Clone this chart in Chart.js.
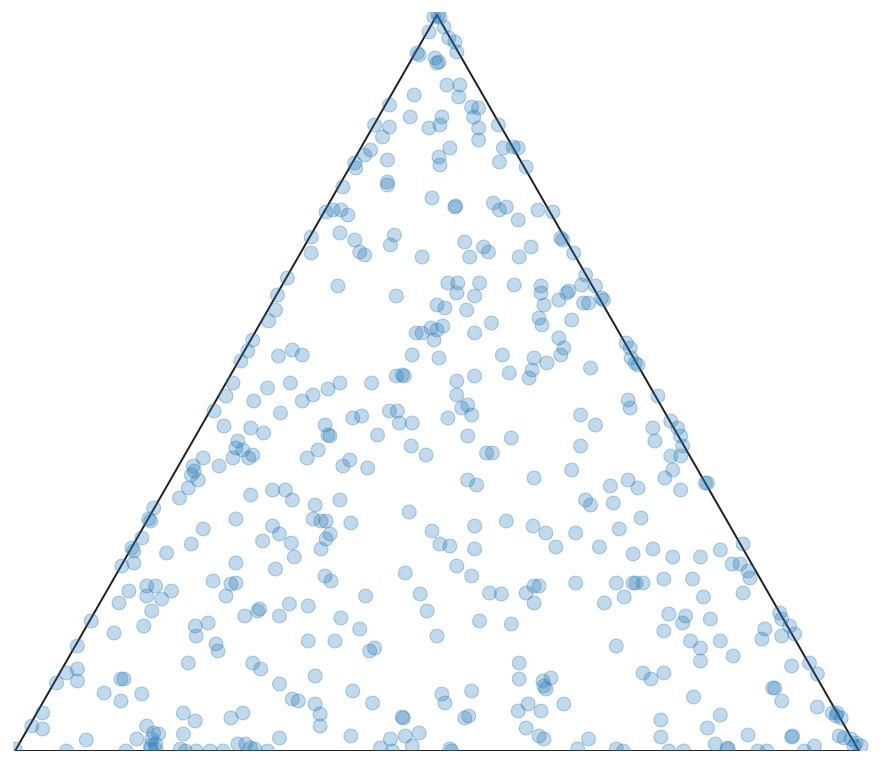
<!DOCTYPE html>
<html lang="en">
<head>
  <meta charset="UTF-8">
  <title>Ternary scatter</title>
  <style>
    body { margin: 0; background: #fff; }
    #wrap { position: relative; width: 888px; height: 774px; }
  </style>
</head>
<body>
  <div id="wrap"><canvas id="chart"></canvas></div>

  <script src="https://cdn.jsdelivr.net/npm/chart.js"></script>
  <script>
    // triangle corners (left, right, apex) in plot units
    const edgeX = [0, 852, 426, 0];
    const edgeY = [0, 0, 736, 0];

    // sample positions, [x, y] in the same units
    const samples = [
      [427,736],[423,734],[429,734],[418,719],[433,724],[438,713],[444,709],[446,699],[406,698],[408,696],
      [424,693],[428,689],[426,688],[436,666],[449,666],[448,654],[403,656],[378,646],[399,634],[431,634],
      [429,626],[418,623],[461,644],[468,643],[463,634],[468,623],[468,611],[488,626],[363,626],[378,624],
      [371,614],[359,601],[353,596],[343,588],[344,583],[376,591],[439,603],[428,594],[429,586],[493,603],
      [503,604],[508,603],[489,589],[516,584],[376,569],[376,566],[331,564],[421,553],[444,544],[445,545],
      [483,548],[489,541],[496,544],[508,531],[528,541],[543,539],[314,539],[321,541],[329,541],[336,536],
      [299,514],[328,518],[343,511],[383,516],[379,506],[454,509],[473,504],[478,499],[521,504],[551,513],
      [553,511],[299,498],[348,499],[353,496],[411,494],[459,494],[509,494],[564,498],

      [275,473],[265,456],[263,441],[256,430],[326,465],[385,455],[426,446],[434,443],[405,418],[411,418],
      [420,423],[426,421],[423,411],[240,411],[235,400],[228,390],[266,395],[280,401],[290,396],[401,396],
      [428,393],[220,368],[213,355],[201,340],[255,363],[241,350],[278,368],[290,350],[301,356],[316,362],
      [328,368],[360,368],[385,375],[391,376],[393,375],[268,338],[211,325],[238,323],[251,318],[313,326],
      [316,316],[318,315],[341,333],[350,335],[378,340],[386,340],[388,328],[401,328],[366,316],[225,310],
      [223,303],[230,301],[236,293],[240,296],[190,293],[180,285],[178,276],[185,271],[181,280],[206,285],
      [220,293],[295,293],[306,301],[331,285],[338,291],[356,283],[400,305],[415,296],[175,263],[166,253],
      [140,243],[238,256],[260,261],[273,261],[280,251],[303,246],[328,251],[398,239],

      [437,468],[447,468],[446,458],[469,468],[464,455],[504,466],[531,465],[531,458],[534,446],[529,433],
      [532,426],[549,451],[559,460],[557,458],[576,476],[572,466],[586,465],[574,448],[579,448],[592,453],
      [594,451],[562,431],[456,441],[432,425],[464,418],[481,428],[549,413],[554,403],[551,396],[524,393],
      [522,381],[519,373],[537,388],[492,396],[499,378],[581,383],[617,408],[621,403],[622,393],[626,388],
      [629,386],[446,370],[464,375],[446,356],[451,343],[457,346],[461,336],[437,333],[457,315],[501,313],
      [476,298],[482,298],[571,336],[586,326],[619,351],[621,343],[649,355],[662,330],[669,323],[672,315],
      [674,305],[672,295],[662,295],[644,323],[646,310],[571,305],[562,281],[524,273],[457,271],[466,266],
      [601,265],[619,271],[629,263],[656,273],[664,281],[672,261],[697,268],[699,268],[576,251],[581,246],
      [604,248],

      [135,232],[137,230],[223,232],[190,222],[260,225],[267,217],[128,213],[118,203],[120,200],[153,198],
      [178,207],[250,210],[279,208],[282,194],[108,185],[120,188],[223,188],[263,182],[200,170],[218,167],
      [223,168],[213,155],[115,160],[133,165],[142,165],[133,155],[148,152],[158,160],[105,148],[138,140],
      [77,130],[100,118],[130,125],[232,135],[245,140],[247,142],[267,135],[277,147],[182,125],[183,115],
      [195,128],[203,107],[205,100],[63,105],[175,88],[240,88],[248,82],[63,82],[63,70],[52,78],
      [42,68],[107,72],[110,72],[90,58],[107,50],[128,57],[267,67],[280,52],[28,38],[17,25],
      [28,22],[170,38],[182,30],[218,33],[230,38],[133,25],[140,18],[145,17],[138,12],[142,7],
      [137,5],[123,12],[170,17],[72,11],[267,13],[225,7],[233,7],[238,3],[242,2],[0,2],
      [52,0],[112,0],[137,2],[142,2],[167,2],[172,0],[183,0],[197,0],[210,0],[255,0],

      [301,232],[309,230],[314,230],[318,217],[314,212],[309,202],[339,228],[421,220],[429,207],[439,205],
      [464,225],[464,202],[496,230],[523,225],[536,218],[546,204],[566,218],[313,175],[319,170],[394,178],
      [446,185],[461,175],[354,155],[409,157],[416,140],[479,158],[491,157],[516,158],[524,165],[529,165],
      [524,148],[566,168],[296,145],[329,133],[348,122],[296,110],[323,110],[358,100],[363,103],[426,115],
      [469,130],[501,127],[509,88],[509,72],[533,70],[536,62],[541,73],[534,65],[303,75],[341,60],
      [361,48],[286,50],[303,47],[308,37],[308,25],[431,57],[434,48],[461,60],[391,34],[392,33],
      [454,33],[458,35],[508,40],[518,47],[531,40],[554,47],[516,23],[529,15],[534,12],[339,15],
      [379,12],[394,15],[408,18],[401,5],[369,3],[381,0],[439,2],[441,0],[568,2],[579,12],

      [632,233],[610,222],[590,204],[624,197],[644,202],[664,194],[692,194],[712,201],[735,207],[724,187],
      [732,187],[740,180],[742,173],[735,158],[607,168],[624,168],[627,168],[634,168],[655,172],[684,172],
      [595,148],[615,154],[695,154],[660,137],[677,135],[674,128],[702,132],[655,120],[682,110],[692,103],
      [692,90],[712,110],[725,95],[607,105],[757,122],[754,112],[772,138],[774,132],[782,125],[787,117],
      [774,115],[784,85],[802,88],[810,77],[634,78],[642,72],[655,78],[765,63],[767,63],[774,50],
      [685,54],[810,44],[825,38],[829,35],[834,33],[830,38],[652,31],[652,14],[712,36],[699,23],
      [740,16],[784,14],[785,15],[832,15],[837,13],[844,12],[849,8],[854,5],[847,5],[707,7],
      [719,3],[720,2],[607,2],[614,0],[660,0],[675,0],[750,0],[759,0],[797,0],[807,5]
    ];

    const dotFill = 'rgba(31, 119, 180, 0.28)';
    const dotEdge = 'rgba(31, 119, 180, 0.32)';

    new Chart(document.getElementById('chart'), {
      type: 'scatter',
      data: {
        datasets: [
          {
            label: 'edges',
            data: edgeX.map((x, i) => ({ x: x, y: edgeY[i] })),
            showLine: true,
            borderColor: '#222',
            borderWidth: 2,
            pointRadius: 0,
            clip: 0,
            order: 1
          },
          {
            label: 'samples',
            data: samples.map(p => ({ x: p[0], y: p[1] })),
            backgroundColor: dotFill,
            borderColor: dotEdge,
            borderWidth: 1.2,
            pointRadius: 7,
            clip: { left: 0, top: 0, right: 20, bottom: 0 },
            order: 0
          }
        ]
      },
      options: {
        responsive: true,
        maintainAspectRatio: false,
        animation: false,
        layout: { padding: { left: 13, right: 0, top: 12, bottom: 23 } },
        plugins: {
          legend: { display: false },
          tooltip: { enabled: false }
        },
        scales: {
          x: { type: 'linear', min: -2, max: 873, display: false },
          y: { type: 'linear', min: 0, max: 739, display: false }
        }
      }
    });
  </script>
</body>
</html>
